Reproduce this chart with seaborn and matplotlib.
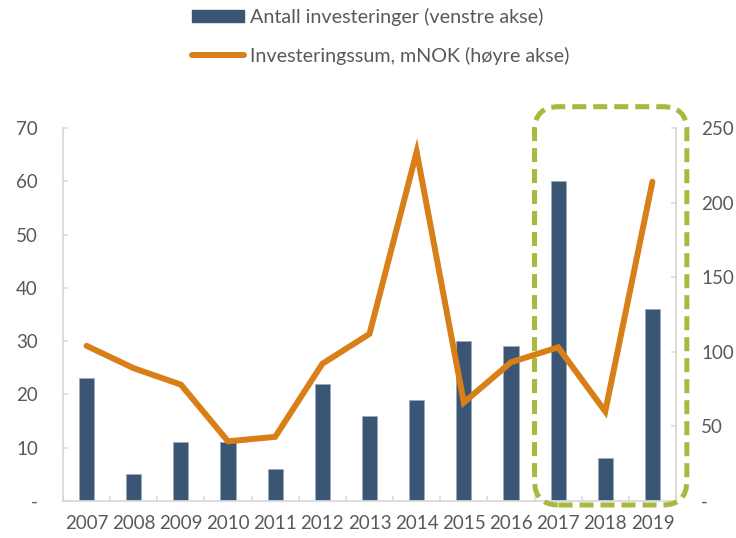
import numpy as np
import pandas as pd
import matplotlib
matplotlib.use("Agg")
import matplotlib.pyplot as plt
import seaborn as sns
from matplotlib.patches import FancyBboxPatch, Patch
from matplotlib.lines import Line2D
from matplotlib.transforms import IdentityTransform
from matplotlib.ticker import FixedLocator

years = ["2007", "2008", "2009", "2010", "2011", "2012", "2013",
         "2014", "2015", "2016", "2017", "2018", "2019"]
antall = [23, 5, 11, 11, 6, 22, 16, 19, 30, 29, 60, 8, 36]
sum_mnok = [104, 89, 78, 40, 43, 92, 112, 234, 66, 93, 103, 60, 214]

left_ticks = [0, 10, 20, 30, 40, 50, 60, 70]
left_labels = ["-", "10", "20", "30", "40", "50", "60", "70"]
right_ticks = [0, 50, 100, 150, 200, 250]
right_labels = ["-", "50", "100", "150", "200", "250"]

bar_label = "Antall investeringer (venstre akse)"
line_label = "Investeringssum, mNOK (høyre akse)"

BAR = "#3B5674"
LINE = "#D97F18"
HIGHLIGHT = "#A9B83E"
SPINE = "#D9D9D9"
TEXT = "#595959"

sns.set_theme(style="white")
plt.rcParams["font.family"] = ["Lato", "DejaVu Sans"]

df = pd.DataFrame({"year": years, "antall": antall, "sum": sum_mnok})
df["pos"] = np.arange(len(df))

fig = plt.figure(figsize=(7.36, 5.38), dpi=100)
ax = fig.add_axes([63 / 736, 1 - 501 / 538, (676 - 63) / 736, (501 - 128) / 538])

sns.barplot(data=df, x="year", y="antall", color=BAR, width=0.32,
            edgecolor="#9AAABB", linewidth=0.6, saturation=1, ax=ax)
ax.set_xlim(-0.5, len(years) - 0.5)
ax.set_ylim(0, 70)

ax2 = ax.twinx()
sns.lineplot(data=df, x="pos", y="sum", color=LINE, linewidth=4.3,
             solid_capstyle="round", solid_joinstyle="miter", ax=ax2)
ax2.set_ylim(0, 250)
ax2.set_xlim(-0.5, len(years) - 0.5)

for a in (ax, ax2):
    a.set_xlabel("")
    a.set_ylabel("")
    for s in a.spines.values():
        s.set_visible(False)

ax.spines["left"].set_visible(True)
ax.spines["bottom"].set_visible(True)
ax2.spines["right"].set_visible(True)
for s in (ax.spines["left"], ax.spines["bottom"], ax2.spines["right"]):
    s.set_color(SPINE)
    s.set_linewidth(1.3)

ax.set_yticks(left_ticks)
ax.set_yticklabels(left_labels)
ax2.set_yticks(right_ticks)
ax2.set_yticklabels(right_labels)

ax.set_xticks(np.arange(len(years)))
ax.set_xticklabels(years)
ax.xaxis.set_minor_locator(FixedLocator(np.arange(len(years) + 1) - 0.5))
ax.tick_params(axis="x", which="major", length=0, pad=10, labelsize=13.5, labelcolor=TEXT)
ax.tick_params(axis="x", which="minor", direction="in", length=3.6, width=1.1,
               color=SPINE, bottom=True)
ax.tick_params(axis="y", direction="in", length=3.6, width=1.1, color=SPINE,
               pad=18, labelsize=13.5, labelcolor=TEXT, left=True)
ax2.tick_params(axis="y", direction="in", length=3.6, width=1.1, color=SPINE,
                pad=18, labelsize=13.5, labelcolor=TEXT, right=True)

# Highlight frame around 2017-2019, anchored to the data coordinates
fig.canvas.draw()
x0, y0 = ax.transData.transform((9.5, -0.75))
x1, y1 = ax.transData.transform((12.73, 74.0))
frame = FancyBboxPatch((x0, y0), x1 - x0, y1 - y0,
                       boxstyle="round,pad=0,rounding_size=24",
                       transform=IdentityTransform(), fill=False,
                       edgecolor=HIGHLIGHT, linewidth=3.6,
                       linestyle=(0, (2.8, 1.4)), clip_on=False, zorder=5)
fig.patches.append(frame)

handles = [Patch(facecolor=BAR, edgecolor=BAR, label=bar_label),
           Line2D([0], [0], color=LINE, linewidth=4.3, solid_capstyle="round",
                  label=line_label)]
leg = fig.legend(handles=handles, loc="upper left",
                 bbox_to_anchor=(192 / 736, 1 - 8 / 538),
                 frameon=False, fontsize=14.2, handlelength=2.65, handleheight=0.55,
                 handletextpad=0.3, labelspacing=1.05, borderpad=0,
                 borderaxespad=0)
for t in leg.get_texts():
    t.set_color(TEXT)

fig.savefig("out.png", dpi=100)
